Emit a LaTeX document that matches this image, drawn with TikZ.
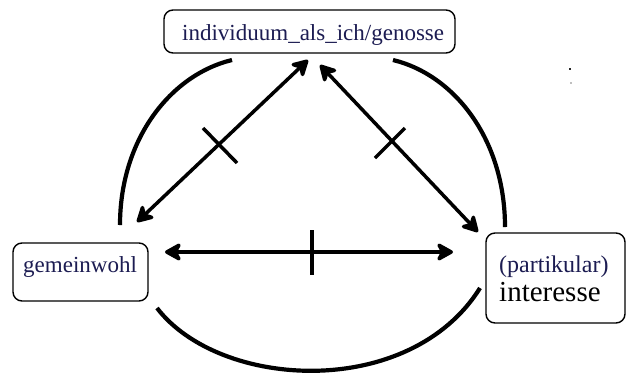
\documentclass[tikz,border=0pt]{standalone}
\usepackage{fontspec}
\newfontfamily\tnr{Liberation Serif}[Ligatures=TeX]
\usetikzlibrary{arrows.meta}
\definecolor{navytext}{RGB}{28,28,82}
\tikzset{
  boxstyle/.style={draw=black, line width=1.4pt, rounded corners=9pt, inner sep=0pt},
  lbl/.style={inner sep=0pt, anchor=base west, text=navytext},
  arcline/.style={line width=4.2pt},
  dblarrow/.style={line width=3.5pt, {Stealth[length=20pt,width=22pt,inset=6pt,round]}-{Stealth[length=20pt,width=22pt,inset=6pt,round]}},
  tickline/.style={line width=3.5pt},
}
\begin{document}
\begin{tikzpicture}[x=1pt,y=-1pt]
\useasboundingbox (0,0) rectangle (627,376);
\fill[white] (0,0) rectangle (627,376);

% boxes
\node[boxstyle, minimum width=291pt, minimum height=43pt] (topbox) at (309.5,31.5) {};
\node[boxstyle, minimum width=135pt, minimum height=58pt] (leftbox) at (80.5,272) {};
\node[boxstyle, minimum width=139pt, minimum height=90pt] (rightbox) at (555.5,278) {};

% texts
\node[lbl, font=\tnr\fontsize{23}{26}\selectfont] (toptext) at (182,40) {individuum\_als\_ich/genosse};
\node[lbl, font=\tnr\fontsize{23}{26}\selectfont] (lefttext) at (23,272) {gemeinwohl};
\node[lbl, font=\tnr\fontsize{24}{26}\selectfont] (parttext) at (499,272) {(partikular)};
\node[lbl, text=black, font=\tnr\fontsize{29}{32}\selectfont] (inttext) at (499,301) {interesse};

% connector end points
\coordinate (lA) at (137,222);
\coordinate (lB) at (308,60);
\coordinate (rA) at (320,65);
\coordinate (rB) at (478,232);
\coordinate (hA) at (165,252);
\coordinate (hB) at (453,252);

% arrows
\draw[dblarrow] (lA) -- (lB);
\draw[dblarrow] (rA) -- (rB);
\draw[dblarrow] (hA) -- (hB);

% ticks
\coordinate (t1a) at (203,128); \coordinate (t1b) at (237,163);
\coordinate (t2a) at (375,158); \coordinate (t2b) at (405,128);
\coordinate (t3a) at (312,230); \coordinate (t3b) at (312,275);
\draw[tickline] (t1a) -- (t1b);
\draw[tickline] (t2a) -- (t2b);
\draw[tickline] (t3a) -- (t3b);

% arcs
\draw[arcline] (120,225) .. controls (120,140) and (170,75) .. (232,60);
\draw[arcline] (393,60) .. controls (455,75) and (505,140) .. (505,227);
\draw[arcline] (157,308) .. controls (220,390) and (410,400) .. (480,288);

% stray marks
\fill[black!85] (568.5,67.5) rectangle (571,70);
\fill[black!25] (570,82) rectangle (572,84);
\end{tikzpicture}
\end{document}
